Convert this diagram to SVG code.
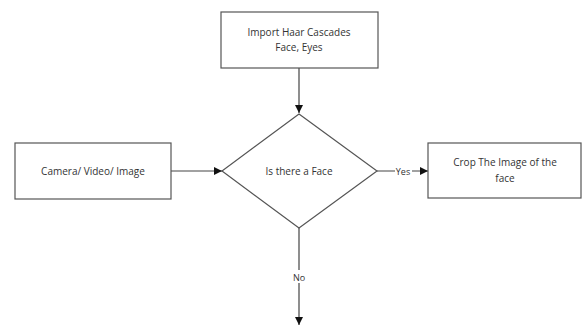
<svg xmlns="http://www.w3.org/2000/svg" width="582" height="325" viewBox="0 0 582 325">
<defs>
<marker id="arr" markerWidth="9" markerHeight="9" refX="8" refY="4.5" orient="auto" markerUnits="userSpaceOnUse">
<path d="M0,0.5 L8,4.5 L0,8.5 Z" fill="#111"/>
</marker>
<style>
.box{fill:#fff;stroke:#555;stroke-width:1.2}
.t{font-family:"Open Sans","Liberation Sans",sans-serif;font-size:10px;fill:#333;text-anchor:middle}
.c{fill:none;stroke:#444;stroke-width:1.2}
</style>
</defs>
<rect width="582" height="325" fill="#fff"/>
<g id="connectors">
<line class="c" x1="299" y1="68" x2="299" y2="113" marker-end="url(#arr)"/>
<line class="c" x1="171" y1="171" x2="222" y2="171" marker-end="url(#arr)"/>
<line class="c" x1="377" y1="171" x2="428" y2="171" marker-end="url(#arr)"/>
<line class="c" x1="299" y1="228" x2="299" y2="325" marker-end="url(#arr)"/>
<rect x="395" y="165" width="17" height="12" fill="#fff"/>
<text class="t" x="403" y="174.5" style="font-size:9px">Yes</text>
<rect x="292" y="270" width="14" height="13" fill="#fff"/>
<text class="t" x="299" y="280.5" style="font-size:9px">No</text>
</g>
<g id="import">
<rect class="box" x="221" y="12" width="157" height="56"/>
<text class="t" x="299" y="36">Import Haar Cascades</text>
<text class="t" x="299" y="51">Face, Eyes</text>
</g>
<g id="source">
<rect class="box" x="15" y="143" width="156" height="56"/>
<text class="t" x="93" y="174.5">Camera/ Video/ Image</text>
</g>
<g id="decision">
<polygon class="box" points="299,114 377,171 299,228 222,171"/>
<text class="t" x="299" y="174.5">Is there a Face</text>
</g>
<g id="crop">
<rect class="box" x="428" y="143" width="153" height="55"/>
<text class="t" x="505" y="166">Crop The Image of the</text>
<text class="t" x="505" y="182">face</text>
</g>
</svg>
